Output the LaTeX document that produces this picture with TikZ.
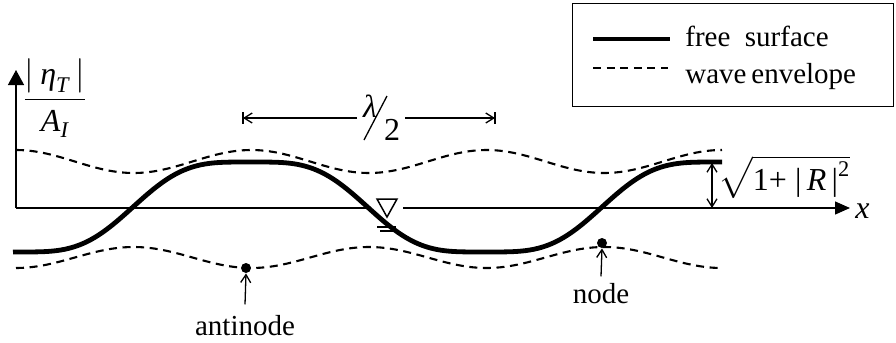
\documentclass[tikz,border=0pt]{standalone}
\usepackage{amsmath}
\usepackage{fontspec}
\setmainfont{Liberation Serif}
\usetikzlibrary{arrows.meta}
\begin{document}
\begin{tikzpicture}[x=0.5pt,y=-0.5pt,
  every node/.style={font=\fontsize{14.5}{16}\selectfont, inner sep=0pt},
  surf/.style={line width=2.4pt},
  env/.style={line width=1.05pt, dash pattern=on 4pt off 2.8pt},
  ax/.style={line width=0.65pt},
  thinline/.style={line width=0.65pt},
  barb/.style={-{Straight Barb[length=4pt,width=5pt]}},
  dotnode/.style={circle, fill, minimum size=5pt}]
\useasboundingbox (0,0) rectangle (896,343);

% legend
\node[draw, line width=0.6pt, minimum width=160.5pt, minimum height=51.5pt, anchor=north west] (legend) at (572,3) {};
\coordinate (ls1) at (593,39); \coordinate (le1) at (670,39);
\coordinate (ls2) at (593,68); \coordinate (le2) at (668,68);
\draw[surf] (ls1) -- (le1);
\draw[env, line width=0.8pt] (ls2) -- (le2);
\node[anchor=base west] (lt1) at (685,46) {free\ \ surface};
\node[anchor=base west] (lt2) at (685,83) {wave\,envelope};

% axes
\coordinate (O) at (16,208);
\coordinate (ytip) at (16,70);
\coordinate (xgapL) at (367,208);
\coordinate (xgapR) at (403,208);
\coordinate (xtip) at (850,208);
\draw[ax, -{Triangle[length=7.5pt,width=8pt]}] (O) -- (ytip);
\draw[ax] (O) -- (xgapL);
\draw[ax, -{Triangle[length=7.5pt,width=6.5pt]}] (xgapR) -- (xtip);
\node[anchor=west] (xlab) at (855,211) {\fontsize{16}{18}\selectfont\itshape x};
\node (ylab) at (55,98) {\fontsize{16}{18}\selectfont$\dfrac{|\,\text{\itshape η}_{\text{\itshape T}}\,|}{\text{\itshape A}_{\text{\itshape I}}}$};

% envelopes
\draw[env] plot[domain=16:722,samples=160] (\x,{208-(46.5+11.5*cos((\x-16)/235.3*360))});
\draw[env] plot[domain=16:722,samples=160] (\x,{208+(49.5+10.5*cos((\x-16)/235.3*360))});

% free surface
\draw[surf] plot[domain=13:722,samples=220] (\x,{207-50.6*(sin((\x-133)/469*360)+sin((\x-133)/469*1080)/9)});

% water level symbol
\draw[line width=0.75pt] (377,199) -- (397,199) -- (387,217) -- cycle;
\draw[line width=0.75pt] (377,227) -- (396,227);
\draw[line width=0.75pt] (380,231) -- (393,231);

% lambda/2 dimension
\coordinate (dL) at (243,118); \coordinate (dLi) at (357,118);
\coordinate (dR) at (495,118); \coordinate (dRi) at (405,118);
\draw[thinline] (243,112) -- (243,124);
\draw[thinline] (495,112) -- (495,124);
\draw[thinline, barb] (dLi) -- (dL);
\draw[thinline, barb] (dRi) -- (dR);
\node (lam) at (370,106) {\fontsize{16}{18}\selectfont\itshape λ};
\node (two) at (392,130) {\fontsize{16}{18}\selectfont 2};
\draw[thinline] (364,140) -- (387,96);

% amplitude arrow
\coordinate (aT) at (712,163); \coordinate (aB) at (712,208);
\draw[thinline, {Straight Barb[length=4pt,width=5pt]}-{Straight Barb[length=4pt,width=5pt]}] (aT) -- (aB);
\node[anchor=west] (amp) at (718,177) {\fontsize{16}{18}\selectfont$\sqrt{\text{1+ |\,\textit{R}\,|}^{\text{2}}}$};

% node / antinode
\node[dotnode] (antidot) at (246,268) {};
\node[dotnode] (nodedot) at (602,243) {};
\node[anchor=base] (anti) at (245,335) {antinode};
\node[anchor=base] (nodeL) at (601,303) {node};
\draw[thinline, barb] ([yshift=5pt]anti.north) -- (antidot.south);
\draw[thinline, barb] ([yshift=3pt]nodeL.north) -- (nodedot.south);
\end{tikzpicture}
\end{document}
